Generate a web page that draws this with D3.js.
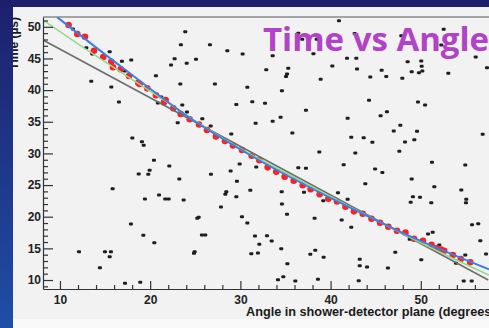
<!DOCTYPE html>
<html>
<head>
<meta charset="utf-8">
<script src="https://cdn.jsdelivr.net/npm/d3@7"></script>
<style>
  html, body { margin: 0; padding: 0; background: #1c2070; }
  svg { display: block; }
  text { font-family: "Liberation Sans", Arial, sans-serif; }
</style>
</head>
<body>
<div id="chart"></div>
<script>
// fitted points along the shower track (angle, time)
var trackPoints = [
  [10.96,50.28],[11.92,48.86],[12.77,48.44],[13.77,46.22],[14.80,45.23],[15.69,44.49],
  [15.88,43.60],[16.73,43.29],[17.65,42.23],[18.68,41.17],[18.84,40.96],[19.68,40.28],
  [20.64,39.18],[21.53,38.07],[21.72,38.44],[22.56,37.12],[23.38,36.22],[24.38,35.39],
  [25.41,34.57],[26.30,33.70],[27.29,32.67],[28.29,31.96],[29.18,31.25],[30.18,30.54],
  [31.25,29.64],[32.10,28.91],[33.03,27.80],[33.98,27.11],[34.91,26.32],[35.91,25.69],
  [36.91,24.96],[37.79,24.33],[38.79,23.54],[39.75,22.84],[40.71,22.40],[41.65,21.58],
  [42.59,20.85],[43.56,20.47],[44.53,19.68],[45.48,19.05],[46.40,18.42],[47.36,17.79],
  [48.30,17.50],[49.25,16.52],[50.24,16.19],[51.19,15.58],[51.74,15.01],[52.24,14.82],
  [52.59,14.63],[53.55,13.95],[54.43,13.32],[55.48,12.80]
];

// random (noise) triggered pixels
var noisePoints = [
  [11.44,49.65],[12.92,46.70],[13.58,45.70],[15.51,46.07],[16.87,44.55],[17.90,44.76],
  [17.21,43.02],[20.64,42.28],[13.47,41.39],[15.69,40.49],[16.54,38.12],[21.23,38.91],
  [20.86,37.96],[23.56,37.65],[24.08,36.54],[23.05,34.85],[18.02,32.43],[19.09,31.85],
  [19.28,31.28],[23.89,49.23],[23.41,47.17],[22.71,44.96],[22.31,43.97],[24.05,44.23],
  [23.34,40.96],
  [40.93,50.96],[26.63,47.17],[28.55,46.22],[30.25,45.70],[25.08,44.87],[33.58,45.43],
  [32.87,43.22],[35.31,43.44],[35.17,42.54],[35.06,42.17],[27.18,40.96],[30.77,40.44],
  [34.61,39.91],[38.90,41.70],[40.19,43.81],[38.10,45.75],[29.55,37.71],[31.32,38.18],
  [32.73,37.92],[37.27,36.82],[25.78,35.49],[26.71,34.33],[31.69,34.75],[33.58,35.07],
  [34.46,35.70],[35.76,33.22],[28.99,33.06],[38.75,30.22],
  [36.42,48.97],[36.86,48.02],[38.46,48.02],
  [42.67,48.96],[47.84,48.59],[52.54,49.60],[52.27,47.12],[41.82,45.02],[42.85,45.02],
  [42.93,43.33],[44.40,42.07],[45.66,43.13],[46.17,42.17],[47.95,41.86],[48.54,44.49],
  [48.99,42.91],[49.80,42.75],[50.05,44.60],[50.10,43.76],[50.17,43.02],[53.05,42.65],
  [56.09,45.23],[57.34,43.55],[44.26,38.39],[49.69,38.12],[50.47,37.65],[46.25,36.59],
  [45.55,35.96],[41.89,35.55],[47.73,34.44],[47.00,33.54],[49.58,33.49],[49.28,32.16],
  [48.25,31.80],[42.29,32.54],[43.67,32.48],[44.63,31.75],[56.86,33.01],[47.62,30.33],
  [42.74,30.06],
  [51.24,28.59],[54.93,28.17],[41.45,28.22],[44.93,27.54],[45.74,27.00],[36.42,27.75],
  [37.27,27.65],
  [20.42,28.91],[22.12,28.01],[18.73,26.75],[19.79,26.70],[19.94,27.33],[23.23,25.96],
  [15.84,24.42],[20.98,23.43],[21.67,22.80],[22.05,22.80],[19.42,22.80],[23.71,22.64],
  [17.87,18.85],[19.24,17.06],[20.46,15.89],[12.11,14.47],[14.99,14.47],[15.65,14.47],
  [15.51,13.68],[14.43,11.95],[17.21,9.47],[18.90,9.63],
  [29.92,28.33],[26.74,26.70],[28.92,27.22],[31.76,27.85],[29.62,25.59],[28.44,23.95],
  [28.33,23.54],[29.55,23.16],[31.10,24.17],[34.58,23.95],[37.05,23.85],[39.19,22.53],
  [34.61,22.01],[35.17,20.38],[27.85,21.53],[25.22,19.75],[25.38,19.90],[30.18,20.00],
  [30.77,19.00],[38.23,19.75],[25.74,17.11],[26.11,17.11],[31.62,16.95],[32.95,17.00],
  [33.47,16.16],[32.10,15.64],[24.93,14.47],[24.86,14.21],[31.21,14.15],[31.95,14.27],
  [34.53,14.95],[38.30,14.69],[37.75,14.06],[39.23,13.59],[35.21,12.58],[34.17,10.05],
  [34.76,10.52],[36.09,9.84],[38.60,10.11],
  [43.85,25.21],[48.99,25.96],[51.50,24.74],[40.82,23.79],[41.89,22.75],[49.13,23.16],
  [48.88,22.27],[49.91,23.06],[51.16,22.21],[54.49,24.22],[55.04,22.75],[55.01,22.21],
  [41.23,19.48],[42.29,18.33],[55.68,18.74],[56.37,18.89],[56.60,16.21],[50.80,17.27],
  [51.32,17.54],[48.77,16.43],[52.05,15.53],[47.17,14.38],[50.05,13.21],[53.90,12.64],
  [54.93,13.95],[57.23,14.11],[43.23,13.27],[43.23,12.26],[44.04,12.05],[46.36,11.90],
  [43.12,9.89],[54.76,9.84],[55.64,9.84]
];

// fit curves
var blueFit = [[9.67,51.55],[16.98,43.49],[24.75,35.28],[31.06,29.75],[41.04,22.21],[48.10,17.38],[57.56,11.69]];
var greenFit = [[8.12,51.07],[14.0,45.4],[20.68,39.2],[26.0,34.2],[31.0,29.95],[36.0,26.2],[41.0,22.4],[48.1,17.25],[53.0,13.8],[57.56,10.79]];
var lineFit = [[8.12,47.91],[57.48,10.0]];

var xMajor = [10, 20, 30, 40, 50];
var yMajor = [10, 15, 20, 25, 30, 35, 40, 45, 50];

var width = 489, height = 328;
var mLeft = 43, mTop = 17, mBottom = 289, mRight = 511;

var svg = d3.select("#chart")
    .append("svg")
    .attr("width", width)
    .attr("height", height);

// slide background and light panel
svg.append("rect").attr("width", width).attr("height", height).attr("fill", "#1c1f6c");
svg.append("rect").attr("x", 13).attr("y", 7).attr("width", width - 13).attr("height", height - 7).attr("fill", "#f2f2f2");
svg.append("rect").attr("x", 13).attr("y", 319).attr("width", width - 13).attr("height", 9).attr("fill", "#f9f9f9");

var x = d3.scaleLinear().domain([8.12, 60]).range([mLeft, mRight]);
var y = d3.scaleLinear().domain([8.58, 51.55]).range([mBottom, mTop]);

var defs = svg.append("defs");
defs.append("clipPath").attr("id", "plot-clip")
    .append("rect").attr("x", mLeft).attr("y", mTop).attr("width", mRight - mLeft).attr("height", mBottom - mTop);

// frame top
svg.append("line")
    .attr("x1", mLeft).attr("x2", mRight).attr("y1", mTop).attr("y2", mTop)
    .style("stroke", "#8a8a8a").style("stroke-width", "1.6px");

var plot = svg.append("g").attr("clip-path", "url(#plot-clip)");

plot.append("g").selectAll("rect")
    .data(noisePoints)
    .enter().append("rect")
    .attr("x", function(d) { return x(d[0]) - 2; })
    .attr("y", function(d) { return y(d[1]) - 1.5; })
    .attr("width", 4)
    .attr("height", 3)
    .attr("rx", 1)
    .attr("fill", "#1e1e1e");

plot.append("g").selectAll("circle")
    .data(trackPoints)
    .enter().append("circle")
    .attr("cx", function(d) { return x(d[0]); })
    .attr("cy", function(d) { return y(d[1]); })
    .attr("r", 3.3)
    .attr("fill", "#ff1f1f");

var line = d3.line()
    .x(function(d) { return x(d[0]); })
    .y(function(d) { return y(d[1]); })
    .curve(d3.curveMonotoneX);

plot.append("path").datum(lineFit).attr("d", line)
    .attr("fill", "none").style("stroke", "#6e6e6e").style("stroke-width", "1.6px");
plot.append("path").datum(greenFit).attr("d", line)
    .attr("fill", "none").style("stroke", "#8fdc8a").style("stroke-width", "1.6px");
plot.append("path").datum(blueFit).attr("d", line)
    .attr("fill", "none").style("stroke", "#3b7fe6").style("stroke-width", "2px");

// axes
var xMinor = d3.range(10, 60, 2).filter(function(v) { return v % 10 != 0; });
var yMinor = d3.range(9, 52, 1).filter(function(v) { return v % 5 != 0; });

svg.append("g")
    .attr("transform", "translate(0," + mBottom + ")")
    .call(d3.axisBottom(x).tickValues(xMajor).tickSizeInner(-8).tickSizeOuter(0).tickPadding(6).tickFormat(d3.format("d")));
svg.append("g")
    .attr("transform", "translate(0," + mBottom + ")")
    .call(d3.axisBottom(x).tickValues(xMinor).tickSizeInner(-4).tickSizeOuter(0).tickFormat(""))
    .select(".domain").remove();

svg.append("g")
    .attr("transform", "translate(" + mLeft + ",0)")
    .call(d3.axisLeft(y).tickValues(yMajor).tickSizeInner(-10).tickSizeOuter(0).tickPadding(2).tickFormat(d3.format("d")));
svg.append("g")
    .attr("transform", "translate(" + mLeft + ",0)")
    .call(d3.axisLeft(y).tickValues(yMinor).tickSizeInner(-5).tickSizeOuter(0).tickFormat(""))
    .select(".domain").remove();

svg.selectAll(".domain, .tick line").style("stroke", "#333").style("stroke-width", "1.2px");
svg.selectAll(".tick text")
    .style("font-size", "12px")
    .style("font-weight", "bold")
    .style("fill", "#222");

// axis titles
svg.append("text")
    .attr("x", 246)
    .attr("y", 316)
    .style("font-size", "12.7px")
    .style("font-weight", "bold")
    .style("fill", "#1a1a1a")
    .text("Angle in shower-detector plane (degrees)");

svg.append("text")
    .attr("transform", "translate(18," + mTop + ") rotate(-90)")
    .attr("text-anchor", "end")
    .style("font-size", "12px")
    .style("font-weight", "bold")
    .style("fill", "#1a1a1a")
    .text("Time (\u00b5s)");

// left slide strip drawn over the clipped y title
var grad = defs.append("linearGradient")
    .attr("id", "side").attr("x1", 0).attr("y1", 0).attr("x2", 0).attr("y2", 1);
grad.append("stop").attr("offset", "0%").attr("stop-color", "#1d206c");
grad.append("stop").attr("offset", "100%").attr("stop-color", "#1f4ea6");
svg.append("rect").attr("x", 0).attr("y", 0).attr("width", 13).attr("height", height).attr("fill", "url(#side)");
svg.append("rect").attr("x", 0).attr("y", 0).attr("width", width).attr("height", 7).attr("fill", "#1c1f6c");

// slide title
svg.append("text")
    .attr("x", 263)
    .attr("y", 51)
    .style("font-family", "'Open Sans', Lato, sans-serif")
    .style("font-size", "33px")
    .style("font-weight", "bold")
    .style("fill", "#b043c6")
    .text("Time vs Angle");
</script>
</body>
</html>
